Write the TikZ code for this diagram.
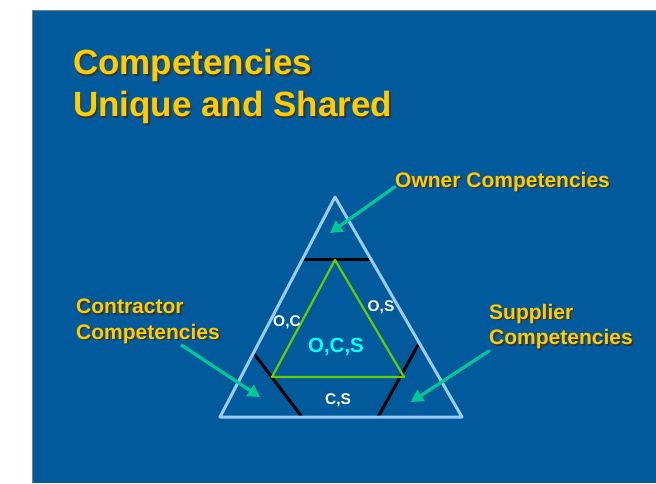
\documentclass[tikz,border=0pt]{standalone}
\usepackage{fontspec}
\setmainfont{Liberation Sans}
\usetikzlibrary{arrows.meta,calc}
\definecolor{slideblue}{HTML}{005A9C}
\definecolor{titleyellow}{HTML}{FFCC00}
\definecolor{arrowgreen}{HTML}{00C896}
\definecolor{edgeblue}{HTML}{99CCFF}
\definecolor{innergreen}{HTML}{66CC00}
\definecolor{tagcyan}{HTML}{00FFFF}
\newcommand{\shadowed}[1]{\makebox[0pt][l]{\kern1.5pt\raisebox{-1.5pt}{\textcolor{black!80}{#1}}}#1}
\begin{document}
\begin{tikzpicture}[x=1pt,y=-1pt,line join=round,line cap=round,
    heading/.style={font=\fontsize{35}{42}\selectfont\bfseries,text=titleyellow,align=left,inner sep=0pt},
    callout/.style={font=\fontsize{21}{25.5}\selectfont\bfseries,text=titleyellow,align=left,inner sep=0pt},
    tag/.style={font=\fontsize{15.5}{18}\selectfont\bfseries,text=white,inner sep=0pt},
    pointer/.style={arrowgreen,line width=3.2pt,-{Triangle[length=12pt,width=13pt]}},
    divider/.style={black,line width=3pt}]
	\useasboundingbox (0,0) rectangle (656,483);
	\fill[white] (0,0) rectangle (656,483);
	\fill[slideblue] (32,10) rectangle (656,483);
	\draw[gray,line width=1pt] (32,483) -- (32,10) -- (656,10);
	% title and callouts
	\node[heading,anchor=north west] (title) at (73,49) {\shadowed{Competencies}\\\shadowed{Unique and Shared}};
	\node[callout,anchor=north west] (owner) at (395,172) {\shadowed{Owner Competencies}};
	\node[callout,anchor=north west] (contractor) at (76,299) {\shadowed{Contractor}\\\shadowed{Competencies}};
	\node[callout,anchor=north west] (supplier) at (489,304) {\shadowed{Supplier}\\\shadowed{Competencies}};
	% triangles
	\coordinate (apex) at (335,197);
	\coordinate (bl) at (220,417);
	\coordinate (br) at (462,417);
	\coordinate (gtop) at (335,260);
	\coordinate (gleft) at (272,377);
	\coordinate (gright) at (404,377);
	\draw[divider] ($(apex)!0.282!(bl)$) -- ($(apex)!0.282!(br)$);
	\draw[divider] (255,355) -- (302,417);
	\draw[divider] (418,345) -- (378,417);
	\draw[innergreen,line width=2.2pt] (gtop) -- (gleft) -- (gright) -- cycle;
	\draw[edgeblue,line width=3pt] (apex) -- (bl) -- (br) -- cycle;
	\node[tag] (oc) at (287,322) {O,C};
	\node[tag] (os) at (381,307) {O,S};
	\node[tag] (cs) at (338,400) {C,S};
	\node[tag,text=tagcyan,font=\fontsize{20.5}{24}\selectfont\bfseries] (ocs) at (336,347) {O,C,S};
	% arrows
	\coordinate (otip) at (330,233);
	\coordinate (ctip) at (260,397);
	\coordinate (stip) at (411,402);
	\draw[pointer] ([yshift=-4pt]owner.west) -- (otip);
	\draw[pointer] ([xshift=106pt]contractor.south west) -- (ctip);
	\draw[pointer] (supplier.south west) -- (stip);
\end{tikzpicture}
\end{document}
